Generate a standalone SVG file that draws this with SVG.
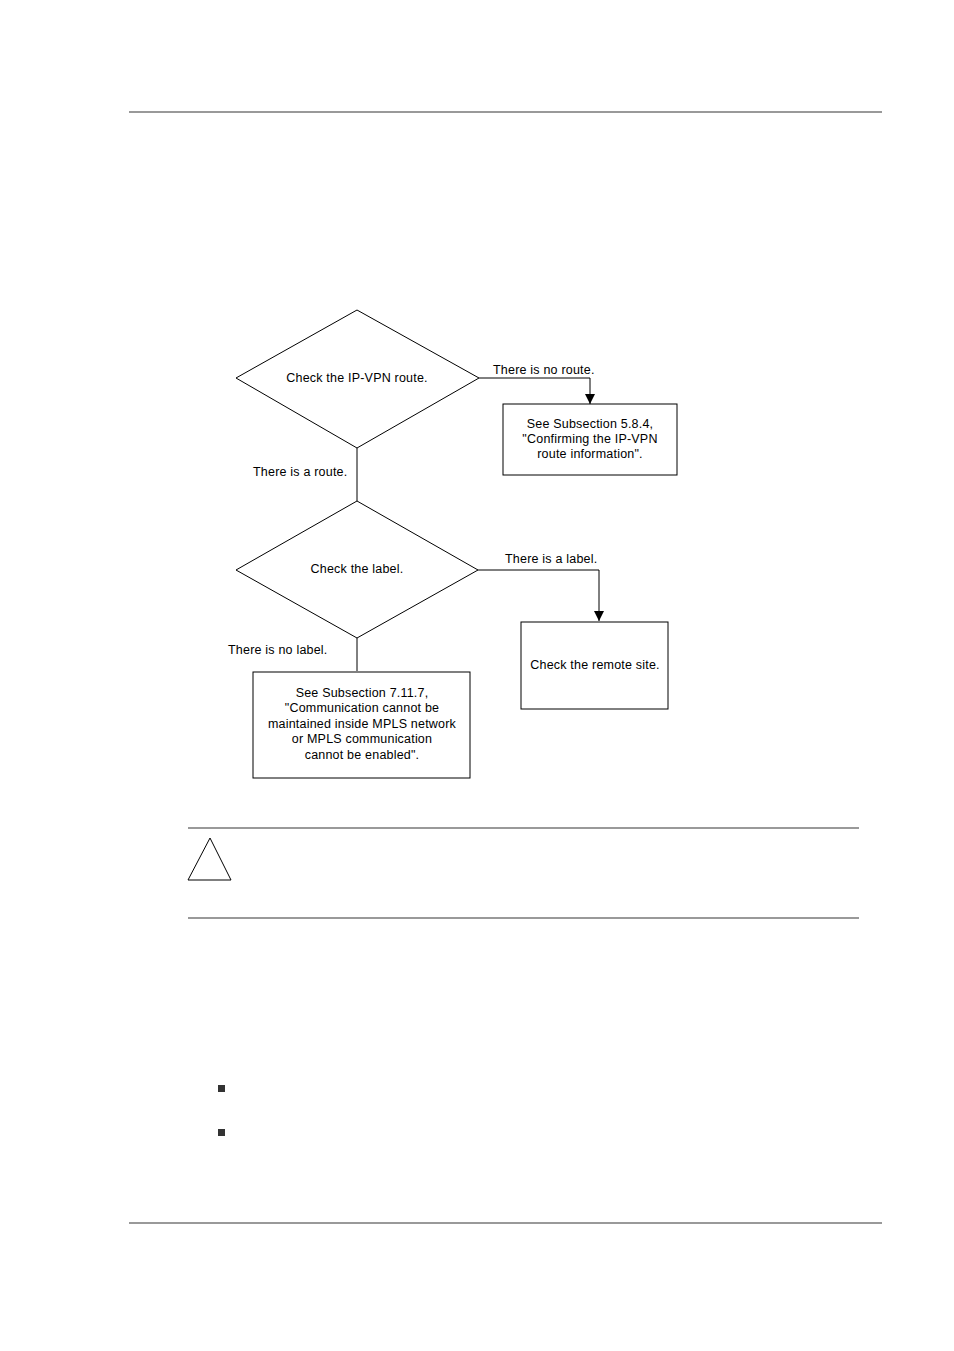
<svg xmlns="http://www.w3.org/2000/svg" width="954" height="1351" viewBox="0 0 954 1351">
<style>
.s{fill:#fff;stroke:#000;stroke-width:1}
.c{fill:none;stroke:#000;stroke-width:1}
.r{stroke:#777;stroke-width:1.3}
text{font-family:"Liberation Sans",Arial,sans-serif;font-size:12.5px;letter-spacing:0.2px;fill:#000}
.m{text-anchor:middle}
</style>
<defs><marker id="a" viewBox="0 0 10 10" refX="10" refY="5" markerWidth="10" markerHeight="10" markerUnits="userSpaceOnUse" orient="auto"><path d="M0,0L10,5L0,10z" fill="#000"/></marker></defs>
<rect width="954" height="1351" fill="#fff"/>
<line class="r" x1="129" y1="112" x2="882" y2="112" stroke="#000"/>
<line class="r" x1="129" y1="1223" x2="882" y2="1223" stroke="#000"/>
<g id="connectors">
<polyline class="c" points="479,378 590,378 590,404" marker-end="url(#a)"/>
<line class="c" x1="357" y1="448" x2="357" y2="501"/>
<polyline class="c" points="478,570 599,570 599,621" marker-end="url(#a)"/>
<line class="c" x1="357" y1="638" x2="357" y2="671"/>
<text x="493" y="374">There is no route.</text>
<text x="253" y="476">There is a route.</text>
<text x="505" y="563">There is a label.</text>
<text x="228" y="654">There is no label.</text>
</g>
<g id="d1"><polygon class="s" points="357,310 479,378 357,448 236,378"/><text class="m" x="357" y="382">Check the IP-VPN route.</text></g>
<g id="b1"><rect class="s" x="503" y="404" width="174" height="71"/><text class="m" x="590" y="428">See Subsection 5.8.4,</text><text class="m" x="590" y="443">"Confirming the IP-VPN</text><text class="m" x="590" y="458">route information".</text></g>
<g id="d2"><polygon class="s" points="357,501 478,570 357,638 236,570"/><text class="m" x="357" y="573">Check the label.</text></g>
<g id="b2"><rect class="s" x="521" y="622" width="147" height="87"/><text class="m" x="595" y="669">Check the remote site.</text></g>
<g id="b3"><rect class="s" x="253" y="672" width="217" height="106"/><text class="m" x="362" y="697">See Subsection 7.11.7,</text><text class="m" x="362" y="712">"Communication cannot be</text><text class="m" x="362" y="728">maintained inside MPLS network</text><text class="m" x="362" y="743">or MPLS communication</text><text class="m" x="362" y="759">cannot be enabled".</text></g>
<line class="r" x1="188" y1="828" x2="859" y2="828"/>
<line class="r" x1="188" y1="918" x2="859" y2="918"/>
<polygon class="s" points="210,838 231,880 188,880"/>
<rect x="218" y="1085" width="7" height="7" fill="#333"/>
<rect x="218" y="1129" width="7" height="7" fill="#333"/>
</svg>
